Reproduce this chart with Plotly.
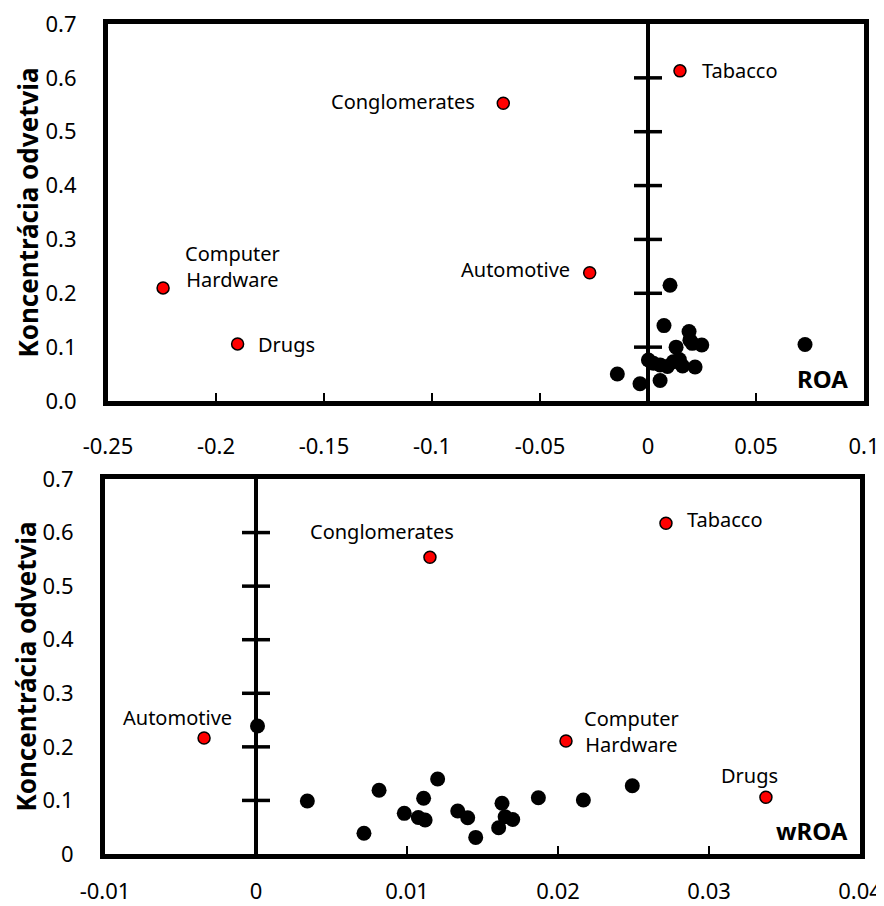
import plotly.graph_objects as go

# ---------------- data: top panel (ROA) ----------------
roa_black_x = [0.0102, 0.0074, 0.0190, 0.0205, 0.0249, 0.0130, 0.0002, 0.0056, 0.0090, 0.0145,
               0.0160, 0.0218, -0.0142, -0.0037, 0.0056, 0.0727, 0.0025, 0.0117, 0.0194]
roa_black_y = [0.215, 0.140, 0.129, 0.107, 0.104, 0.100, 0.076, 0.067, 0.064, 0.077,
               0.065, 0.063, 0.050, 0.032, 0.038, 0.105, 0.070, 0.073, 0.113]
roa_red_labels = ["Tabacco", "Conglomerates", "Automotive", "Computer<br>Hardware", "Drugs"]
roa_red_x = [0.0148, -0.0670, -0.0270, -0.2245, -0.1900]
roa_red_y = [0.613, 0.553, 0.238, 0.210, 0.106]
roa_xticks = [-0.25, -0.2, -0.15, -0.1, -0.05, 0, 0.05, 0.1]
roa_xticktext = ["-0.25", "-0.2", "-0.15", "-0.1", "-0.05", "0", "0.05", "0.1"]
roa_yticks = [0, 0.1, 0.2, 0.3, 0.4, 0.5, 0.6, 0.7]
roa_yticktext = ["0.0", "0.1", "0.2", "0.3", "0.4", "0.5", "0.6", "0.7"]

# ---------------- data: bottom panel (wROA) ----------------
wroa_black_x = [0.0001, 0.0034, 0.00815, 0.00715, 0.01203, 0.0111, 0.00982, 0.01075, 0.0112, 0.01336,
                0.01402, 0.01455, 0.01629, 0.01607, 0.0165, 0.0170, 0.0187, 0.02168, 0.02492]
wroa_black_y = [0.239, 0.099, 0.119, 0.0386, 0.140, 0.104, 0.0759, 0.0681, 0.0634, 0.0802,
                0.0677, 0.031, 0.0946, 0.049, 0.0696, 0.0645, 0.105, 0.1007, 0.1274]
wroa_red_labels = ["Tabacco", "Conglomerates", "Automotive", "Computer<br>Hardware", "Drugs"]
wroa_red_x = [0.02715, 0.01152, -0.00344, 0.02053, 0.03377]
wroa_red_y = [0.6175, 0.554, 0.2164, 0.211, 0.106]
wroa_xticks = [-0.01, 0, 0.01, 0.02, 0.03, 0.04]
wroa_xticktext = ["-0.01", "0", "0.01", "0.02", "0.03", "0.04"]
wroa_yticks = [0, 0.1, 0.2, 0.3, 0.4, 0.5, 0.6, 0.7]
wroa_yticktext = ["0", "0.1", "0.2", "0.3", "0.4", "0.5", "0.6", "0.7"]

zero_axis_ticks = [0.1, 0.2, 0.3, 0.4, 0.5, 0.6]
y_title = "Koncentrácia odvetvia"

# ---------------- styles ----------------
FONT = "Noto Sans"
TICKFONT = dict(family=FONT, size=22, color="black")
ANNFONT = dict(family=FONT, size=20, color="black")

# label offsets (xanchor, xshift, yshift) per red point
roa_label_style = [("left", 20, 0), ("right", -26, 2), ("right", -18, 3), ("center", 69, 21), ("left", 18, -1)]
wroa_label_style = [("left", 19, 4), ("center", -48, 26), ("center", -27, 21), ("center", 65, 9), ("center", -16, 22)]

fig = go.Figure()

def add_panel(xa, ya, bx, by, rx, ry, labels, styles):
    # crossing ticks on the vertical zero axis
    fig.add_trace(go.Scatter(x=[0] * len(zero_axis_ticks), y=zero_axis_ticks, mode="markers",
                             marker=dict(symbol="line-ew", size=20, line=dict(width=3.5, color="black")),
                             xaxis=xa, yaxis=ya, hoverinfo="skip"))
    fig.add_trace(go.Scatter(x=bx, y=by, mode="markers",
                             marker=dict(size=15, color="black"),
                             xaxis=xa, yaxis=ya))
    fig.add_trace(go.Scatter(x=rx, y=ry, mode="markers",
                             marker=dict(size=12, color="#FF0000", line=dict(width=1.5, color="black")),
                             xaxis=xa, yaxis=ya))
    for lab, x, y, (anc, xs, ys) in zip(labels, rx, ry, styles):
        fig.add_annotation(x=x, y=y, xref=xa, yref=ya, text=lab, showarrow=False,
                           xanchor=anc, yanchor="middle", xshift=xs, yshift=ys,
                           align="center", font=ANNFONT)

add_panel("x", "y", roa_black_x, roa_black_y, roa_red_x, roa_red_y, roa_red_labels, roa_label_style)
add_panel("x2", "y2", wroa_black_x, wroa_black_y, wroa_red_x, wroa_red_y, wroa_red_labels, wroa_label_style)

OFF = 8  # page body margin
W, H = 884 - OFF, 906 - OFF

def xdom(a, b):
    return [(a - OFF) / W, (b - OFF) / W]

def ydom(top, bottom):
    return [(H - (bottom - OFF)) / H, (H - (top - OFF)) / H]

def xax(dom, rng, tv, tt, anchor, standoff):
    return dict(domain=dom, range=rng, tickvals=tv, ticktext=tt, ticks="inside", ticklen=8,
                tickwidth=2, tickcolor="black", showline=True, linewidth=5, linecolor="black",
                mirror=True, zeroline=True, zerolinecolor="black", zerolinewidth=4,
                showgrid=False, anchor=anchor, tickfont=TICKFONT, ticklabelstandoff=standoff,
                ticklabeloverflow="allow", automargin=False)

def yax(dom, tv, tt, anchor):
    return dict(domain=dom, range=[0, 0.7], tickvals=tv, ticktext=tt, ticks="",
                showline=True, linewidth=5, linecolor="black", mirror=True,
                zeroline=False, showgrid=False, anchor=anchor, tickfont=TICKFONT,
                ticklabelstandoff=22, ticklabeloverflow="allow", automargin=False,
                title=dict(text=y_title, font=dict(family=FONT, size=26, color="black", weight="bold"),
                           standoff=1))

fig.update_layout(
    width=W, height=H, margin=dict(l=0, r=0, t=0, b=0),
    paper_bgcolor="white", plot_bgcolor="white", showlegend=False,
    xaxis=xax(xdom(108, 864), [-0.25, 0.1], roa_xticks, roa_xticktext, "y", 22),
    yaxis=yax(ydom(24, 401), roa_yticks, roa_yticktext, "x"),
    xaxis2=xax(xdom(105, 860), [-0.01, 0.04], wroa_xticks, wroa_xticktext, "y2", 14),
    yaxis2=yax(ydom(479, 854), wroa_yticks, wroa_yticktext, "x2"),
)

fig.add_annotation(x=0.981, y=0.061, xref="x domain", yref="y domain", text="<b>ROA</b>",
                   showarrow=False, xanchor="right", yanchor="middle",
                   font=dict(family=FONT, size=24, color="black"))
fig.add_annotation(x=0.987, y=0.064, xref="x2 domain", yref="y2 domain", text="<b>wROA</b>",
                   showarrow=False, xanchor="right", yanchor="middle",
                   font=dict(family=FONT, size=24, color="black"))

fig.write_html("out.html")
